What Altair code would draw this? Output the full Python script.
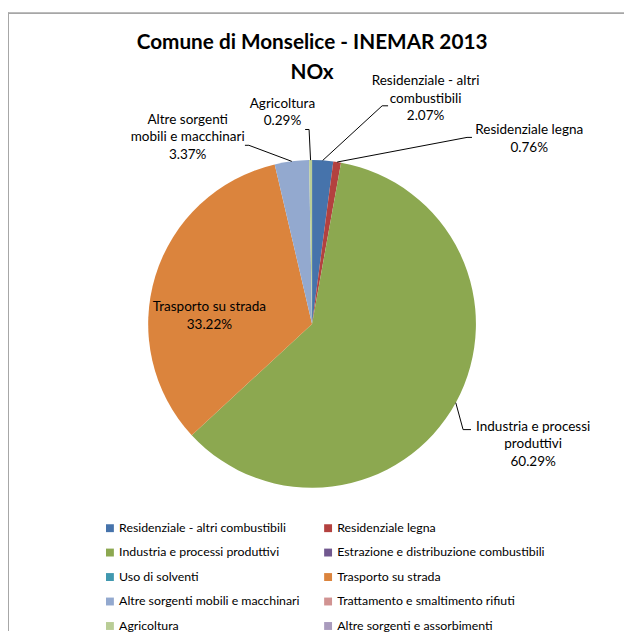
import altair as alt
import pandas as pd

# ---------------- data ----------------
categories = [
    "Residenziale - altri combustibili",
    "Residenziale legna",
    "Industria e processi produttivi",
    "Estrazione e distribuzione combustibili",
    "Uso di solventi",
    "Trasporto su strada",
    "Altre sorgenti mobili e macchinari",
    "Trattamento e smaltimento rifiuti",
    "Agricoltura",
    "Altre sorgenti e assorbimenti",
]
values = [2.07, 0.76, 60.29, 0.0, 0.0, 33.22, 3.37, 0.0, 0.29, 0.0]
colors = ["#4673AB", "#B3413F", "#8CA850", "#71588F", "#4198AF",
          "#DB843D", "#93A9CF", "#D19392", "#B9CD96", "#A99BBD"]

# slice label names (as wrapped on the chart)
label_names = {
    "Residenziale - altri combustibili": "Residenziale - altri\ncombustibili",
    "Residenziale legna": "Residenziale legna",
    "Industria e processi produttivi": "Industria e processi\nproduttivi",
    "Trasporto su strada": "Trasporto su strada",
    "Altre sorgenti mobili e macchinari": "Altre sorgenti\nmobili e macchinari",
    "Agricoltura": "Agricoltura",
}

# ---------------- layout (annotation placement, offsets from pie centre) ----------------
W, P_TOP, P_BOTTOM = 616, 70, 65
H = 632 - 2 * P_TOP
CX, CY, R = W / 2, H / 2, 166
# first text line (tdx, tdy), leader elbow (edx, edy), leader tick end x (kdx)
label_layout = {
    "Residenziale - altri combustibili": (115, -246, 71, -221, 77),
    "Residenziale legna": (220, -196, 157, -189, 162),
    "Industria e processi produttivi": (224, 104, 153, 107, 161),
    "Trasporto su strada": (-104, -17, None, None, None),
    "Altre sorgenti mobili e macchinari": (-126, -207, -64, -181, -68),
    "Agricoltura": (-30, -223, -3, -197, -7),
}

FONT = "Lato"

rows = []
for i, (c, v) in enumerate(zip(categories, values)):
    lay = label_layout.get(c, (None,) * 5)
    rows.append(dict(category=c, value=v, order=i,
                     name=label_names.get(c, ""),
                     has_label=c in label_layout,
                     has_leader=lay[2] is not None,
                     tdx=lay[0], tdy=lay[1], edx=lay[2], edy=lay[3], kdx=lay[4]))
df = pd.DataFrame(rows)

base = alt.Chart(df)

pie = base.mark_arc(outerRadius=R, strokeWidth=0).encode(
    theta=alt.Theta("value:Q", stack=True),
    order=alt.Order("order:Q"),
    color=alt.Color(
        "category:N",
        scale=alt.Scale(domain=categories, range=colors),
        legend=alt.Legend(
            orient="none", legendX=97, legendY=446.5, columns=2, direction="horizontal",
            title=None,
            symbolType="square", symbolSize=64, symbolStrokeWidth=0,
            labelFont=FONT, labelFontSize=12.5, labelColor="#000000",
            labelOffset=3, columnPadding=22, rowPadding=11.8, padding=0,
            labelLimit=400,
        ),
    ),
)

geo = (
    base.transform_window(cum="sum(value)", sort=[alt.SortField("order")], frame=[None, 0])
    .transform_joinaggregate(total="sum(value)")
    .transform_calculate(mid="(datum.cum - datum.value / 2) / datum.total * 2 * PI")
    .transform_calculate(
        sx=f"{CX} + {R} * sin(datum.mid)",
        sy=f"{CY} - {R} * cos(datum.mid)",
        ex=f"{CX} + datum.edx",
        ey=f"{CY} + datum.edy",
        kx=f"{CX} + datum.kdx",
        tx=f"{CX} + datum.tdx",
        ty=f"{CY} + datum.tdy",
        label="datum.name + '\\n' + format(datum.value, '.2f') + '%'",
    )
    .transform_filter("datum.has_label")
)

leader1 = geo.transform_filter("datum.has_leader").mark_rule(color="#000000", strokeWidth=1).encode(
    x=alt.X("sx:Q", scale=None, axis=None), y=alt.Y("sy:Q", scale=None, axis=None),
    x2="ex:Q", y2="ey:Q",
)
leader2 = geo.transform_filter("datum.has_leader").mark_rule(color="#000000", strokeWidth=1).encode(
    x=alt.X("ex:Q", scale=None, axis=None), y=alt.Y("ey:Q", scale=None, axis=None),
    x2="kx:Q", y2="ey:Q",
)
labels = geo.mark_text(font=FONT, fontSize=13.7, color="#000000", lineBreak="\n",
                       lineHeight=17.7, align="center", baseline="middle").encode(
    x=alt.X("tx:Q", scale=None, axis=None), y=alt.Y("ty:Q", scale=None, axis=None),
    text="label:N",
)

frame_df = pd.DataFrame({"k": [0]})
frame_top = alt.Chart(frame_df).mark_rule(color="#A6A6A6", strokeWidth=1.7).encode(
    x=alt.value(0), x2=alt.value(W + 8), y=alt.value(-P_TOP + 1.2))
frame_left = alt.Chart(frame_df).mark_rule(color="#A6A6A6", strokeWidth=2).encode(
    x=alt.value(0), y=alt.value(-P_TOP + 0.4), y2=alt.value(H + P_BOTTOM))

chart = alt.layer(frame_top, frame_left, pie, leader1, leader2, labels).properties(
    width=W, height=H,
    view=alt.ViewBackground(stroke="transparent", strokeWidth=0),
    title=alt.TitleParams(
        text=["Comune di Monselice - INEMAR 2013", "NOx"],
        font=FONT, fontSize=21, fontWeight="bold", color="#000000",
        anchor="middle", lineHeight=30, offset=-72, dx=0,
    ),
    padding={"left": 0, "top": P_TOP, "right": 8, "bottom": P_BOTTOM},
    autosize=alt.AutoSizeParams(type="none"),
).configure_view(stroke="transparent", strokeWidth=0).configure(background="#FFFFFF")

chart.save("out.html", embed_options={"renderer": "svg", "actions": False})
